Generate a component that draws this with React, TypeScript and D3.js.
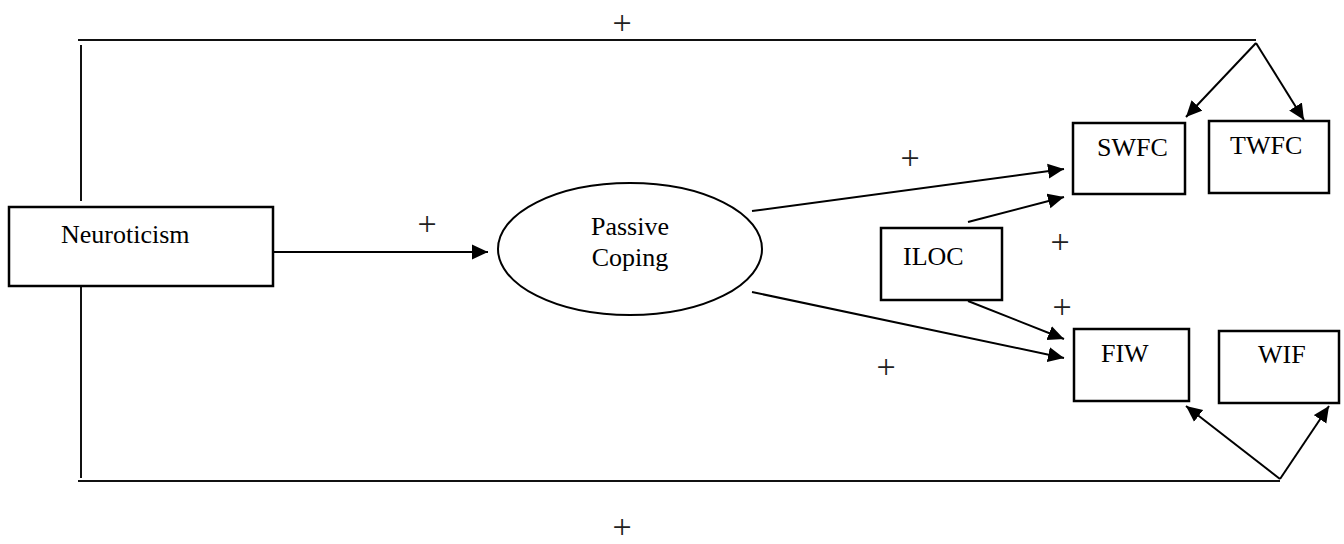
import React, { useEffect, useRef } from "react";
import * as d3 from "d3";

// diagram content
const nodeIds = ["neuro", "coping", "iloc", "swfc", "twfc", "fiw", "wif"];
const nodeLabels: string[][] = [
  ["Neuroticism"],
  ["Passive", "Coping"],
  ["ILOC"],
  ["SWFC"],
  ["TWFC"],
  ["FIW"],
  ["WIF"],
];
const signs = ["+", "+", "+", "+", "+", "+", "+"];

// layout (px in a 1344x544 frame)
interface Box {
  shape: "rect" | "ellipse";
  x: number;
  y: number;
  w: number;
  h: number;
  tx: number;
  ty: number[];
  anchor: string;
}
const layout: Record<string, Box> = {
  neuro: { shape: "rect", x: 9, y: 207, w: 264, h: 79, tx: 61, ty: [243], anchor: "start" },
  coping: { shape: "ellipse", x: 498, y: 183, w: 264, h: 132, tx: 630, ty: [235, 266], anchor: "middle" },
  iloc: { shape: "rect", x: 881, y: 228, w: 121, h: 72, tx: 903, ty: [265], anchor: "start" },
  swfc: { shape: "rect", x: 1073, y: 123, w: 112, h: 71, tx: 1097, ty: [156], anchor: "start" },
  twfc: { shape: "rect", x: 1209, y: 121, w: 120, h: 72, tx: 1230, ty: [154], anchor: "start" },
  fiw: { shape: "rect", x: 1074, y: 329, w: 115, h: 72, tx: 1101, ty: [362], anchor: "start" },
  wif: { shape: "rect", x: 1219, y: 331, w: 120, h: 72, tx: 1258, ty: [363], anchor: "start" },
};

// connector polylines; arrow = arrowhead on last point
const plainLines: [number, number][][] = [
  [[78, 40], [1256, 40]],
  [[81, 45], [81, 201]],
  [[81, 286], [81, 478]],
  [[78, 481], [1280, 481]],
];
const arrowLines: [number, number][][] = [
  [[273, 252], [488, 252]],
  [[752, 211], [1064, 169]],
  [[752, 292], [1064, 358]],
  [[968, 222], [1064, 197]],
  [[968, 301], [1064, 339]],
  [[1256, 43], [1186, 117]],
  [[1256, 43], [1304, 120]],
  [[1280, 479], [1186, 406]],
  [[1280, 479], [1329, 406]],
];
const signPos: [number, number][] = [
  [622, 22],
  [427, 223],
  [910, 157],
  [1060, 241],
  [1062, 306],
  [886, 366],
  [622, 526],
];

const FONT = "'Liberation Serif', 'Times New Roman', serif";

const App = () => {
  const ref = useRef<SVGSVGElement>(null);

  useEffect(() => {
    document.body.style.margin = "0";
    const svg = d3.select(ref.current);
    svg.selectAll("*").remove();

    svg
      .append("defs")
      .append("marker")
      .attr("id", "arrow")
      .attr("markerUnits", "userSpaceOnUse")
      .attr("viewBox", "0 -8 16 16")
      .attr("refX", 16)
      .attr("refY", 0)
      .attr("markerWidth", 16)
      .attr("markerHeight", 16)
      .attr("orient", "auto")
      .append("path")
      .attr("d", "M0,-7.5L16,0L0,7.5Z")
      .attr("fill", "#000");

    const line = d3.line<[number, number]>();

    svg
      .selectAll("path.plain")
      .data(plainLines)
      .enter()
      .append("path")
      .attr("class", "plain")
      .attr("d", (d) => line(d))
      .attr("fill", "none")
      .attr("stroke", "#111")
      .attr("stroke-width", 2);

    svg
      .selectAll("path.arrow")
      .data(arrowLines)
      .enter()
      .append("path")
      .attr("class", "arrow")
      .attr("d", (d) => line(d))
      .attr("fill", "none")
      .attr("stroke", "#000")
      .attr("stroke-width", 2)
      .attr("marker-end", "url(#arrow)");

    nodeIds.forEach((id, i) => {
      const b = layout[id];
      const g = svg.append("g").attr("class", "node");
      if (b.shape === "rect") {
        g.append("rect")
          .attr("x", b.x)
          .attr("y", b.y)
          .attr("width", b.w)
          .attr("height", b.h)
          .attr("fill", "#fff")
          .attr("stroke", "#000")
          .attr("stroke-width", 2.5);
      } else {
        g.append("ellipse")
          .attr("cx", b.x + b.w / 2)
          .attr("cy", b.y + b.h / 2)
          .attr("rx", b.w / 2)
          .attr("ry", b.h / 2)
          .attr("fill", "#fff")
          .attr("stroke", "#000")
          .attr("stroke-width", 2);
      }
      nodeLabels[i].forEach((t, j) => {
        g.append("text")
          .attr("x", b.tx)
          .attr("y", b.ty[j])
          .attr("text-anchor", b.anchor)
          .attr("font-family", FONT)
          .attr("font-size", 26)
          .attr("fill", "#000")
          .text(t);
      });
    });

    svg
      .selectAll("text.sign")
      .data(signs)
      .enter()
      .append("text")
      .attr("class", "sign")
      .attr("x", (_d, i) => signPos[i][0])
      .attr("y", (_d, i) => signPos[i][1])
      .attr("text-anchor", "middle")
      .attr("dominant-baseline", "central")
      .attr("font-family", FONT)
      .attr("font-size", 34)
      .attr("fill", "#222")
      .text((d) => d);
  }, []);

  return <svg ref={ref} width={1344} height={544} style={{ display: "block", background: "#fff" }} />;
};

export default App;
